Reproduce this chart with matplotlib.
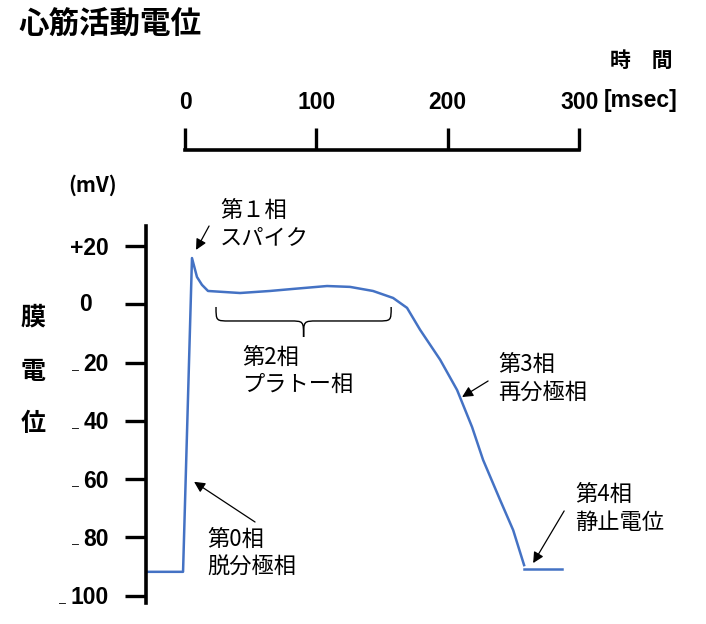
import matplotlib
matplotlib.use("Agg")
import matplotlib.pyplot as plt
from matplotlib.path import Path
from matplotlib.patches import PathPatch
from matplotlib.transforms import offset_copy

plt.rcParams['font.family'] = ['Noto Sans CJK JP', 'DejaVu Sans']

# Action potential trace (time in msec, membrane potential in mV)
t_ms = [-28.2, -1.5, 5.3, 9.1, 12.9, 17.5, 41.9, 64.7, 82.2, 108.1, 125.6,
        143.1, 158.4, 169.0, 178.9, 194.2, 207.1, 218.5, 226.9, 239.9, 249.8,
        258.1]
mv = [-91.8, -91.8, 15.9, 9.4, 6.7, 4.6, 3.9, 4.6, 5.3, 6.3, 6.0,
      4.6, 2.2, -1.2, -8.7, -19.0, -29.4, -42.1, -53.4, -67.2, -77.5,
      -89.5]
# resting potential after repolarisation
rest_t = [258.1, 287.1]
rest_mv = [-90.8, -90.8]

y_ticks = [20, 0, -20, -40, -60, -80, -100]
y_labels = ['+20', '0', '20', '40', '60', '80', '100']
time_ticks = [0, 100, 200, 300]
plateau_span = (23.6, 156.9)

BLUE = '#4472C4'
NUM = dict(family='Liberation Sans', fontweight='bold', fontsize=16.5)
XLIM = (-29.7, 392)

fig = plt.figure(figsize=(7.06, 6.24), dpi=100)
W, H = 706, 624

# main axes: left spine only
ax = fig.add_axes([146 / W, 21 / H, (700 - 146) / W, 377 / H])
ax.set_xlim(*XLIM)
ax.set_ylim(-102.5, 26.9)
for s in ['top', 'right', 'bottom']:
    ax.spines[s].set_visible(False)
ax.spines['left'].set_linewidth(2.6)
ax.set_xticks([])
ax.set_yticks(y_ticks)
ax.set_yticklabels([])
ax.tick_params(axis='y', direction='out', length=15, width=2.4)

ax.plot(t_ms, mv, color=BLUE, lw=1.8, solid_joinstyle='round')
ax.plot(rest_t, rest_mv, color=BLUE, lw=1.8)

# y tick labels (small minus signs like the original)
ytr = ax.get_yaxis_transform()
for v, lab in zip(y_ticks, y_labels):
    if v == 0:
        ax.text(0, v, lab, transform=offset_copy(ytr, fig, x=-60, units='dots'),
                ha='center', va='center', **NUM)
        continue
    ax.text(0, v, lab, transform=offset_copy(ytr, fig, x=-37, y=-2, units='dots'),
            ha='right', va='center', **NUM)
    if v < 0:
        xoff = -37 - 12.7 * len(lab) - 8
        ax.text(0, v, '\u2013', transform=offset_copy(ytr, fig, x=xoff, y=-8, units='dots'),
                ha='center', va='center', family='Liberation Sans', fontsize=9)

# time scale bar on top
ax_t = fig.add_axes([146 / W, (H - 150) / H, (700 - 146) / W, 21 / H])
ax_t.set_xlim(*XLIM)
for s in ['top', 'right', 'left']:
    ax_t.spines[s].set_visible(False)
ax_t.spines['bottom'].set_bounds(0, 300)
ax_t.spines['bottom'].set_linewidth(2.6)
ax_t.set_yticks([])
ax_t.set_xticks(time_ticks)
ax_t.set_xticklabels([str(t) for t in time_ticks], **NUM)
ax_t.tick_params(axis='x', bottom=True, top=False, labelbottom=False,
                 labeltop=True, direction='in', length=15.5, width=2.4, pad=11)
ax_t.patch.set_visible(False)

fig.text(604 / W, 1 - 100 / H, '[msec]', ha='left', va='center', **NUM)
fig.text(641 / W, 1 - 60 / H, '時\u3000間', ha='center', va='center',
         fontsize=15, fontweight='bold')

# titles / axis labels
fig.text(18 / W, 1 - 25 / H, '心筋活動電位', ha='left', va='center',
         fontsize=22, fontweight='bold')
fig.text(93 / W, 1 - 185 / H, '(mV)', ha='center', va='center',
         fontsize=15, fontweight='bold')
for ch, yp in zip('膜電位', [318, 372, 424]):
    fig.text(33 / W, 1 - yp / H, ch, ha='center', va='center',
             fontsize=18, fontweight='bold')

# phase annotations
TXT = dict(fontsize=16, ha='left', va='center', linespacing=1.25)
ax.text(26.6, 27.5, '第１相\nスパイク', **TXT)
ax.text(43.4, -22.8, '第2相\nプラトー相', **TXT)
ax.text(238.3, -25.4, '第3相\n再分極相', **TXT)
ax.text(297, -70, '第4相\n静止電位', **TXT)
ax.text(16.8, -85.5, '第0相\n脱分極相', **TXT)

ARW = dict(arrowstyle='-|>', color='black', lw=0.9, mutation_scale=16,
           shrinkA=0, shrinkB=0)
for tail, head in [((18.3, 26.9), (8.4, 18.7)),
                   ((53.3, -74.7), (6.9, -60.9)),
                   ((230.7, -26.3), (210.9, -31.8)),
                   ((288.6, -70.9), (265, -88.8))]:
    ax.annotate('', xy=head, xytext=tail, arrowprops=ARW, annotation_clip=False)

# curly brace under the plateau
x0, x1 = plateau_span
xm = (x0 + x1) / 2
yt, yh, yb, w = -0.9, -5.7, -11.2, 10.5
verts = [(x0, yt), (x0, yh), (x0, yh), (x0 + w, yh),
         (xm - w, yh),
         (xm, yh), (xm, yh), (xm, yb),
         (xm, yh), (xm, yh), (xm + w, yh),
         (x1 - w, yh),
         (x1, yh), (x1, yh), (x1, yt)]
codes = [Path.MOVETO, Path.CURVE4, Path.CURVE4, Path.CURVE4,
         Path.LINETO,
         Path.CURVE4, Path.CURVE4, Path.CURVE4,
         Path.CURVE4, Path.CURVE4, Path.CURVE4,
         Path.LINETO,
         Path.CURVE4, Path.CURVE4, Path.CURVE4]
ax.add_patch(PathPatch(Path(verts, codes), fill=False, lw=1.0, color='black'))

fig.savefig('out.png', dpi=100)
